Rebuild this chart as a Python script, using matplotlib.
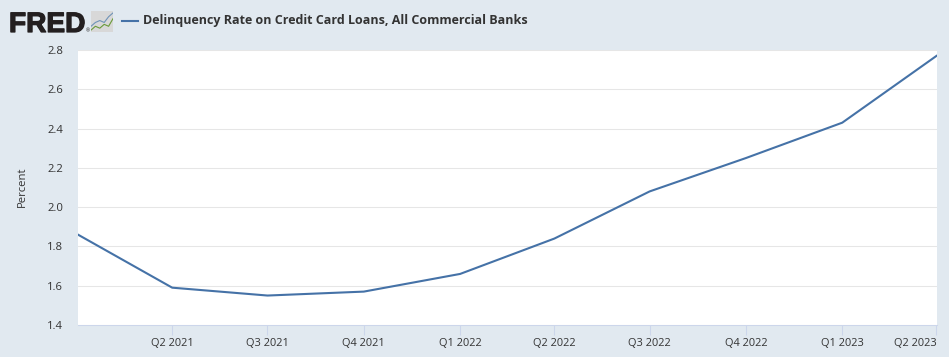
import matplotlib
matplotlib.use("Agg")
import matplotlib.pyplot as plt
import matplotlib.dates as mdates
import matplotlib.patheffects as pe
from datetime import date

W, H = 949, 357

quarters = [date(2021, 1, 1), date(2021, 4, 1), date(2021, 7, 1), date(2021, 10, 1), date(2022, 1, 1),
            date(2022, 4, 1), date(2022, 7, 1), date(2022, 10, 1), date(2023, 1, 1), date(2023, 4, 1)]
rates = [1.86, 1.59, 1.55, 1.57, 1.66, 1.84, 2.08, 2.25, 2.43, 2.77]
quarter_labels = ["Q2 2021", "Q3 2021", "Q4 2021", "Q1 2022", "Q2 2022",
                  "Q3 2022", "Q4 2022", "Q1 2023", "Q2 2023"]
y_ticks = [1.4, 1.6, 1.8, 2.0, 2.2, 2.4, 2.6, 2.8]

title = "Delinquency Rate on Credit Card Loans, All Commercial Banks"
bg = "#e1e9f0"
line_color = "#4572a7"
text_color = "#333333"

plt.rcParams['font.family'] = ['Open Sans', 'DejaVu Sans']

fig = plt.figure(figsize=(W / 100, H / 100), dpi=100, facecolor=bg)

# plot area in pixels: x 78-937, y 50-325
ax = fig.add_axes([78 / W, 1 - 325 / H, (937 - 78) / W, (325 - 50) / H])
ax.set_facecolor("white")
ax.plot(quarters, rates, color=line_color, lw=1.5, solid_joinstyle="round", clip_on=True)

ax.set_xlim(mdates.date2num(quarters[0]), mdates.date2num(quarters[-1]) + 0.5)
ax.set_ylim(1.4, 2.8)

ax.set_yticks(y_ticks)
ax.set_yticklabels([f"{v:.1f}" for v in y_ticks])
ax.set_xticks(quarters[1:])
ax.set_xticklabels(quarter_labels)
ax.get_xticklabels()[-1].set_ha("right")

ax.grid(axis="y", color="#e6e6e6", lw=0.75)
ax.set_axisbelow(True)
for side in ["top", "left", "right"]:
    ax.spines[side].set_visible(False)
ax.spines["bottom"].set_color("#ccd6eb")
ax.spines["bottom"].set_linewidth(0.75)
ax.tick_params(axis="x", length=7.2, width=0.75, color="#ccd6eb", labelsize=7.9, labelcolor=text_color, pad=2.5)
ax.tick_params(axis="y", length=0, labelsize=8.1, labelcolor=text_color, pad=10.8)

fig.text(22 / W, 1 - 187 / H, "Percent", rotation=90, ha="center", va="center", fontsize=8.1, color=text_color)

# header: logo and legend
fig.text(9 / W, 1 - 32 / H, "FRED", fontsize=20.2, fontweight="bold", color="#231f20",
         family=["Liberation Sans"], ha="left", va="baseline",
         path_effects=[pe.withStroke(linewidth=0.9, foreground="#231f20")])
fig.text(86 / W, 1 - 32 / H, "®", fontsize=3.5, color="#231f20", ha="left", va="baseline")

icon = fig.add_axes([91 / W, 1 - 32 / H, 22 / W, 21 / H])
icon.set_facecolor("#d8d8d8")
icon.set_xticks([])
icon.set_yticks([])
for s in icon.spines.values():
    s.set_visible(False)
icon_x = [0, 2, 4, 6, 8, 10]
icon.plot(icon_x, [3, 5, 6, 5, 8, 10], color="#6f93b8", lw=0.8)
icon.plot(icon_x, [1, 3, 2, 4, 3, 7], color="#6a9a3a", lw=0.8)
icon.set_xlim(0, 10)
icon.set_ylim(0, 11)

header = fig.add_axes([0, 0, 1, 1], facecolor="none")
header.axis("off")
header.set_xlim(0, W)
header.set_ylim(H, 0)
header.plot([122, 138], [20.5, 20.5], color=line_color, lw=1.5)
header.text(143, 20.5, title, fontsize=9.0, fontweight="bold", color=text_color, ha="left", va="center")

fig.savefig("out.png", dpi=100, facecolor=bg)
